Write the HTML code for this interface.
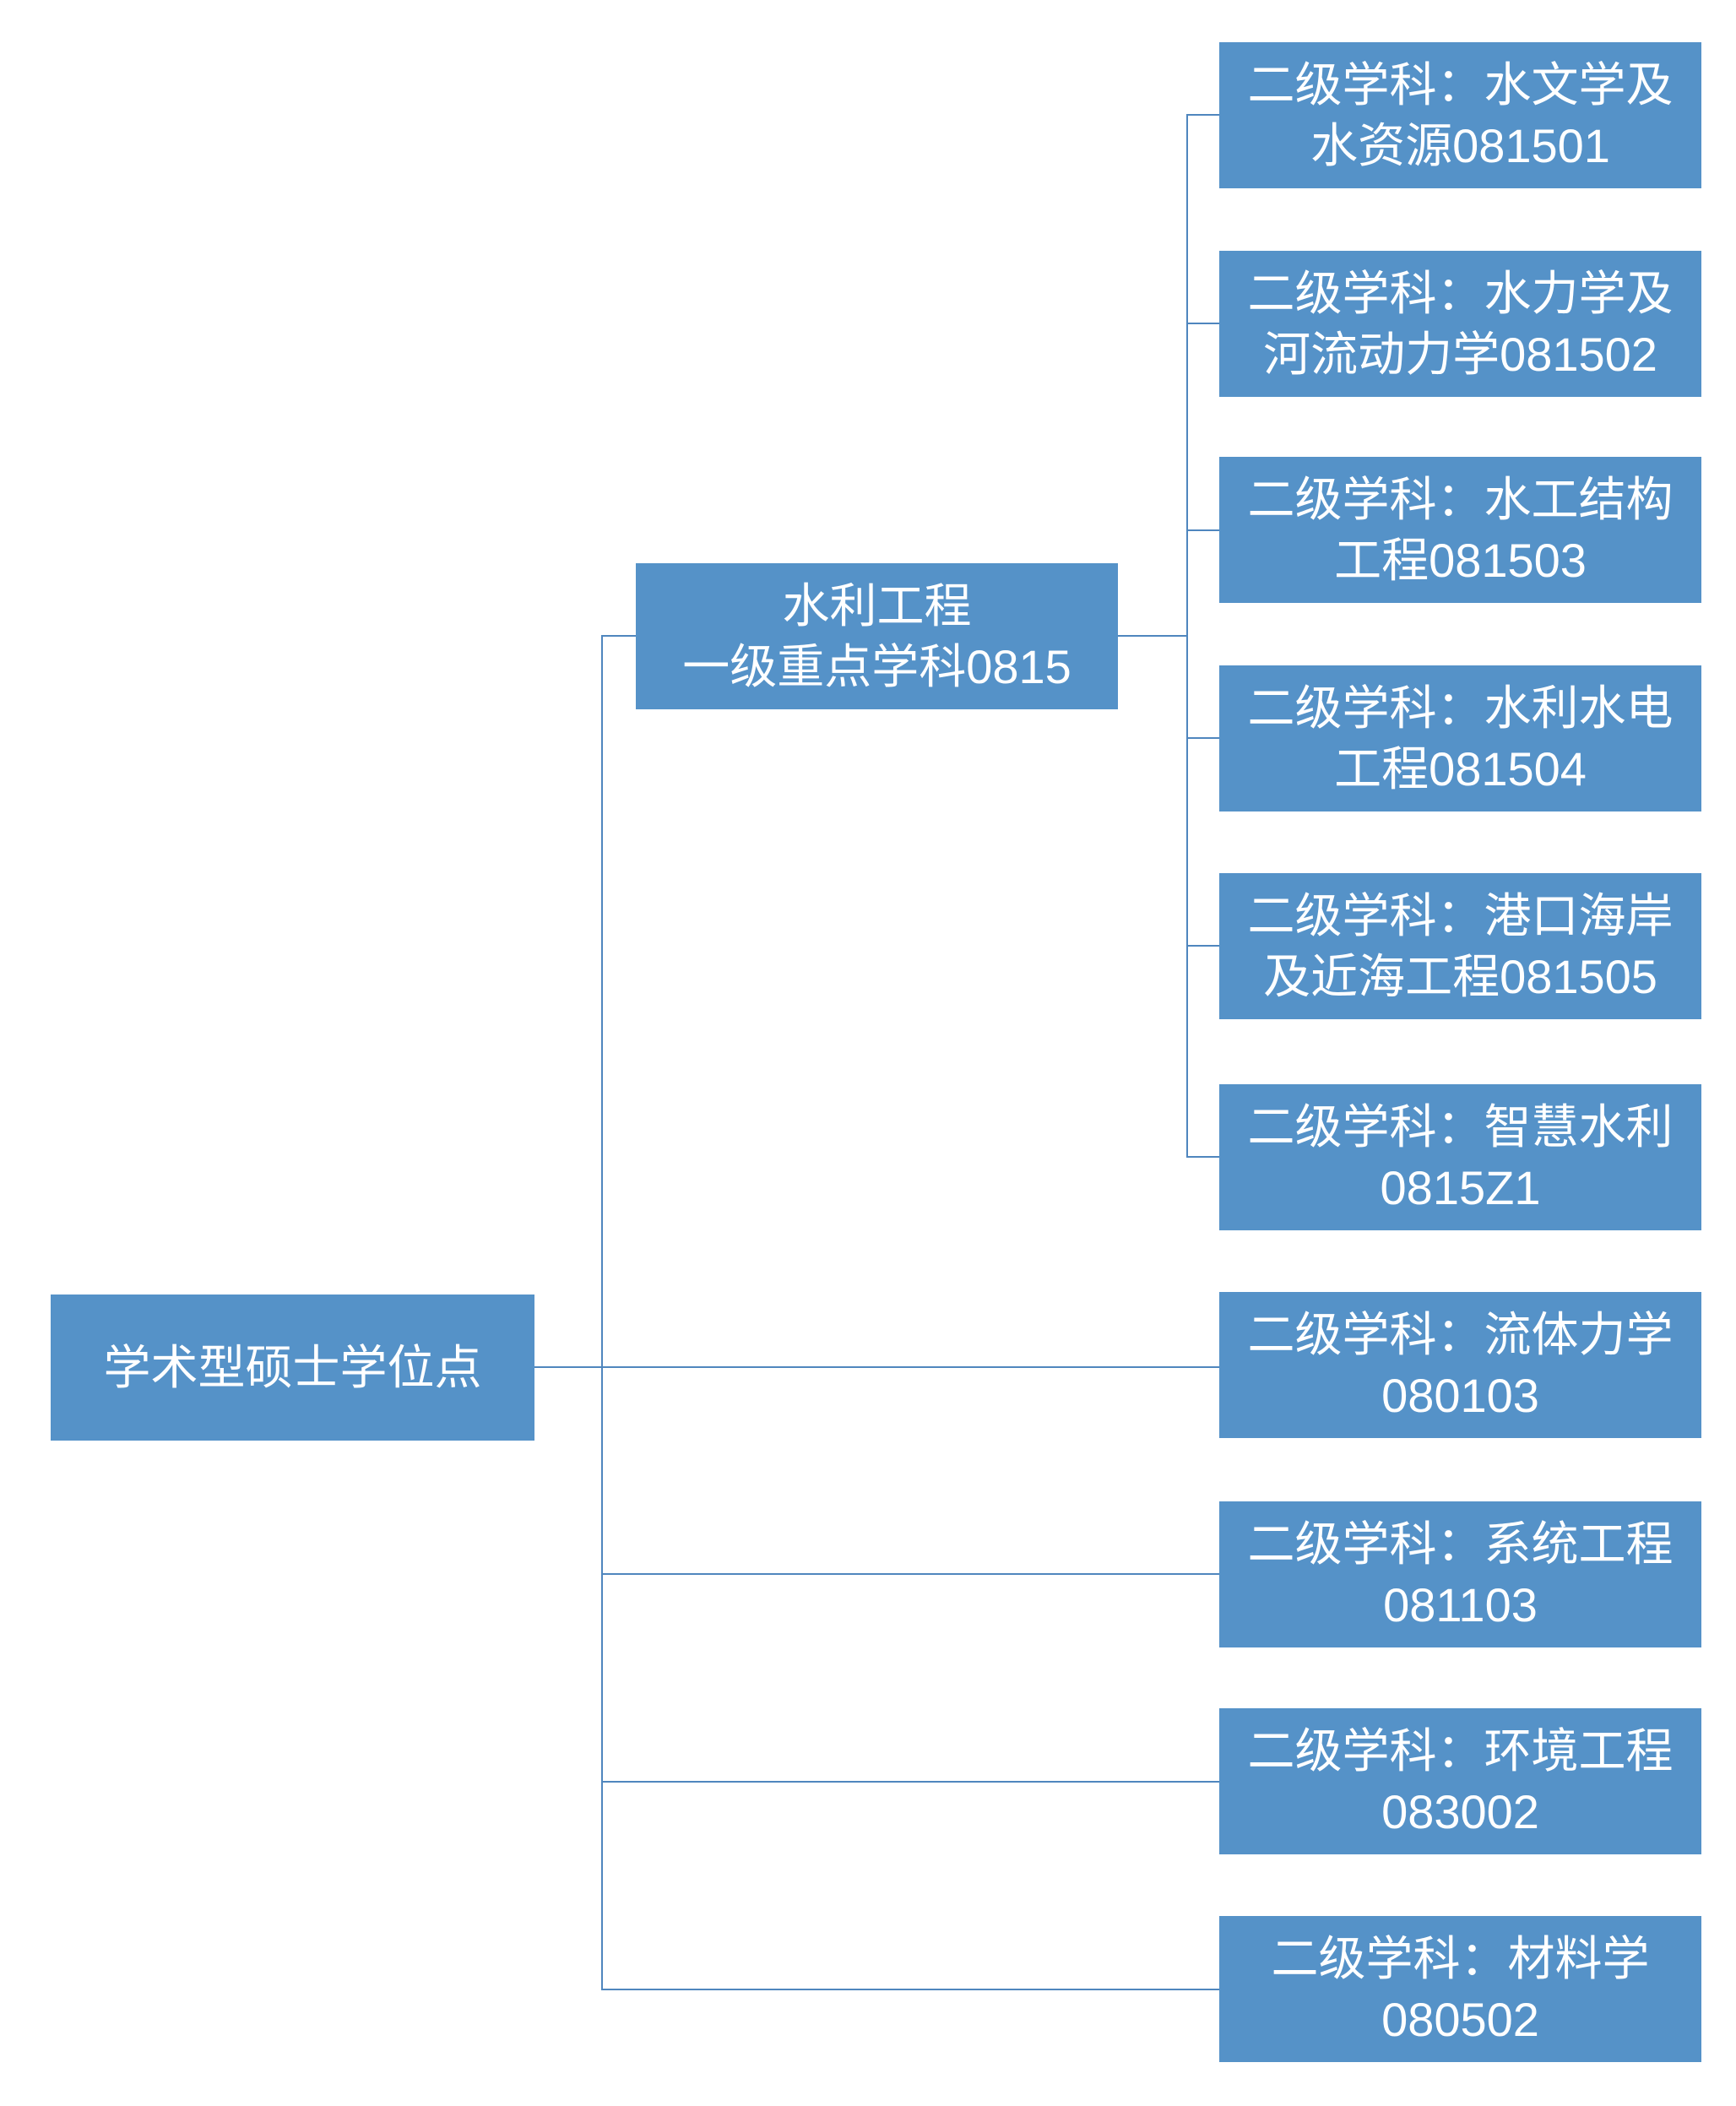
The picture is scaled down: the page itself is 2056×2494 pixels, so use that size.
<!DOCTYPE html>
<html><head><meta charset="utf-8"><style>
html,body{margin:0;padding:0;background:#fff;}
body{width:2056px;height:2494px;position:relative;overflow:hidden;font-family:"Liberation Sans","Noto Sans CJK SC",sans-serif;}
.b{position:absolute;background:#5592c8;color:#fff;font-size:56px;line-height:72px;display:flex;align-items:center;justify-content:center;text-align:center;box-sizing:border-box;}
.r{left:1444px;width:571px;height:173px;}
.h{position:absolute;height:2px;background:#4f86be;}
.v{position:absolute;width:2px;background:#4f86be;}
</style></head><body>
<div class="v" style="left:712px;top:752px;height:1605px"></div>
<div class="v" style="left:1405px;top:135px;height:1236px"></div>
<div class="h" style="left:712px;top:752px;width:42px"></div>
<div class="h" style="left:1324px;top:752px;width:82px"></div>
<div class="h" style="left:633px;top:1618px;width:812px"></div>
<div class="h" style="left:712px;top:1863px;width:733px"></div>
<div class="h" style="left:712px;top:2109px;width:733px"></div>
<div class="h" style="left:712px;top:2355px;width:733px"></div>
<div class="h" style="left:1405px;top:135px;width:40px"></div>
<div class="h" style="left:1405px;top:382px;width:40px"></div>
<div class="h" style="left:1405px;top:627px;width:40px"></div>
<div class="h" style="left:1405px;top:873px;width:40px"></div>
<div class="h" style="left:1405px;top:1119px;width:40px"></div>
<div class="h" style="left:1405px;top:1369px;width:40px"></div>

<div class="b" style="left:60px;top:1533px;width:573px;height:173px">学术型硕士学位点</div>
<div class="b" style="left:753px;top:667px;width:571px;height:173px">水利工程<br>一级重点学科0815</div>

<div class="b r" style="top:50px">二级学科：水文学及<br>水资源081501</div>
<div class="b r" style="top:297px">二级学科：水力学及<br>河流动力学081502</div>
<div class="b r" style="top:541px">二级学科：水工结构<br>工程081503</div>
<div class="b r" style="top:788px">二级学科：水利水电<br>工程081504</div>
<div class="b r" style="top:1034px">二级学科：港口海岸<br>及近海工程081505</div>
<div class="b r" style="top:1284px">二级学科：智慧水利<br>0815Z1</div>
<div class="b r" style="top:1530px">二级学科：流体力学<br>080103</div>
<div class="b r" style="top:1778px">二级学科：系统工程<br>081103</div>
<div class="b r" style="top:2023px">二级学科：环境工程<br>083002</div>
<div class="b r" style="top:2269px">二级学科：材料学<br>080502</div>
</body></html>
